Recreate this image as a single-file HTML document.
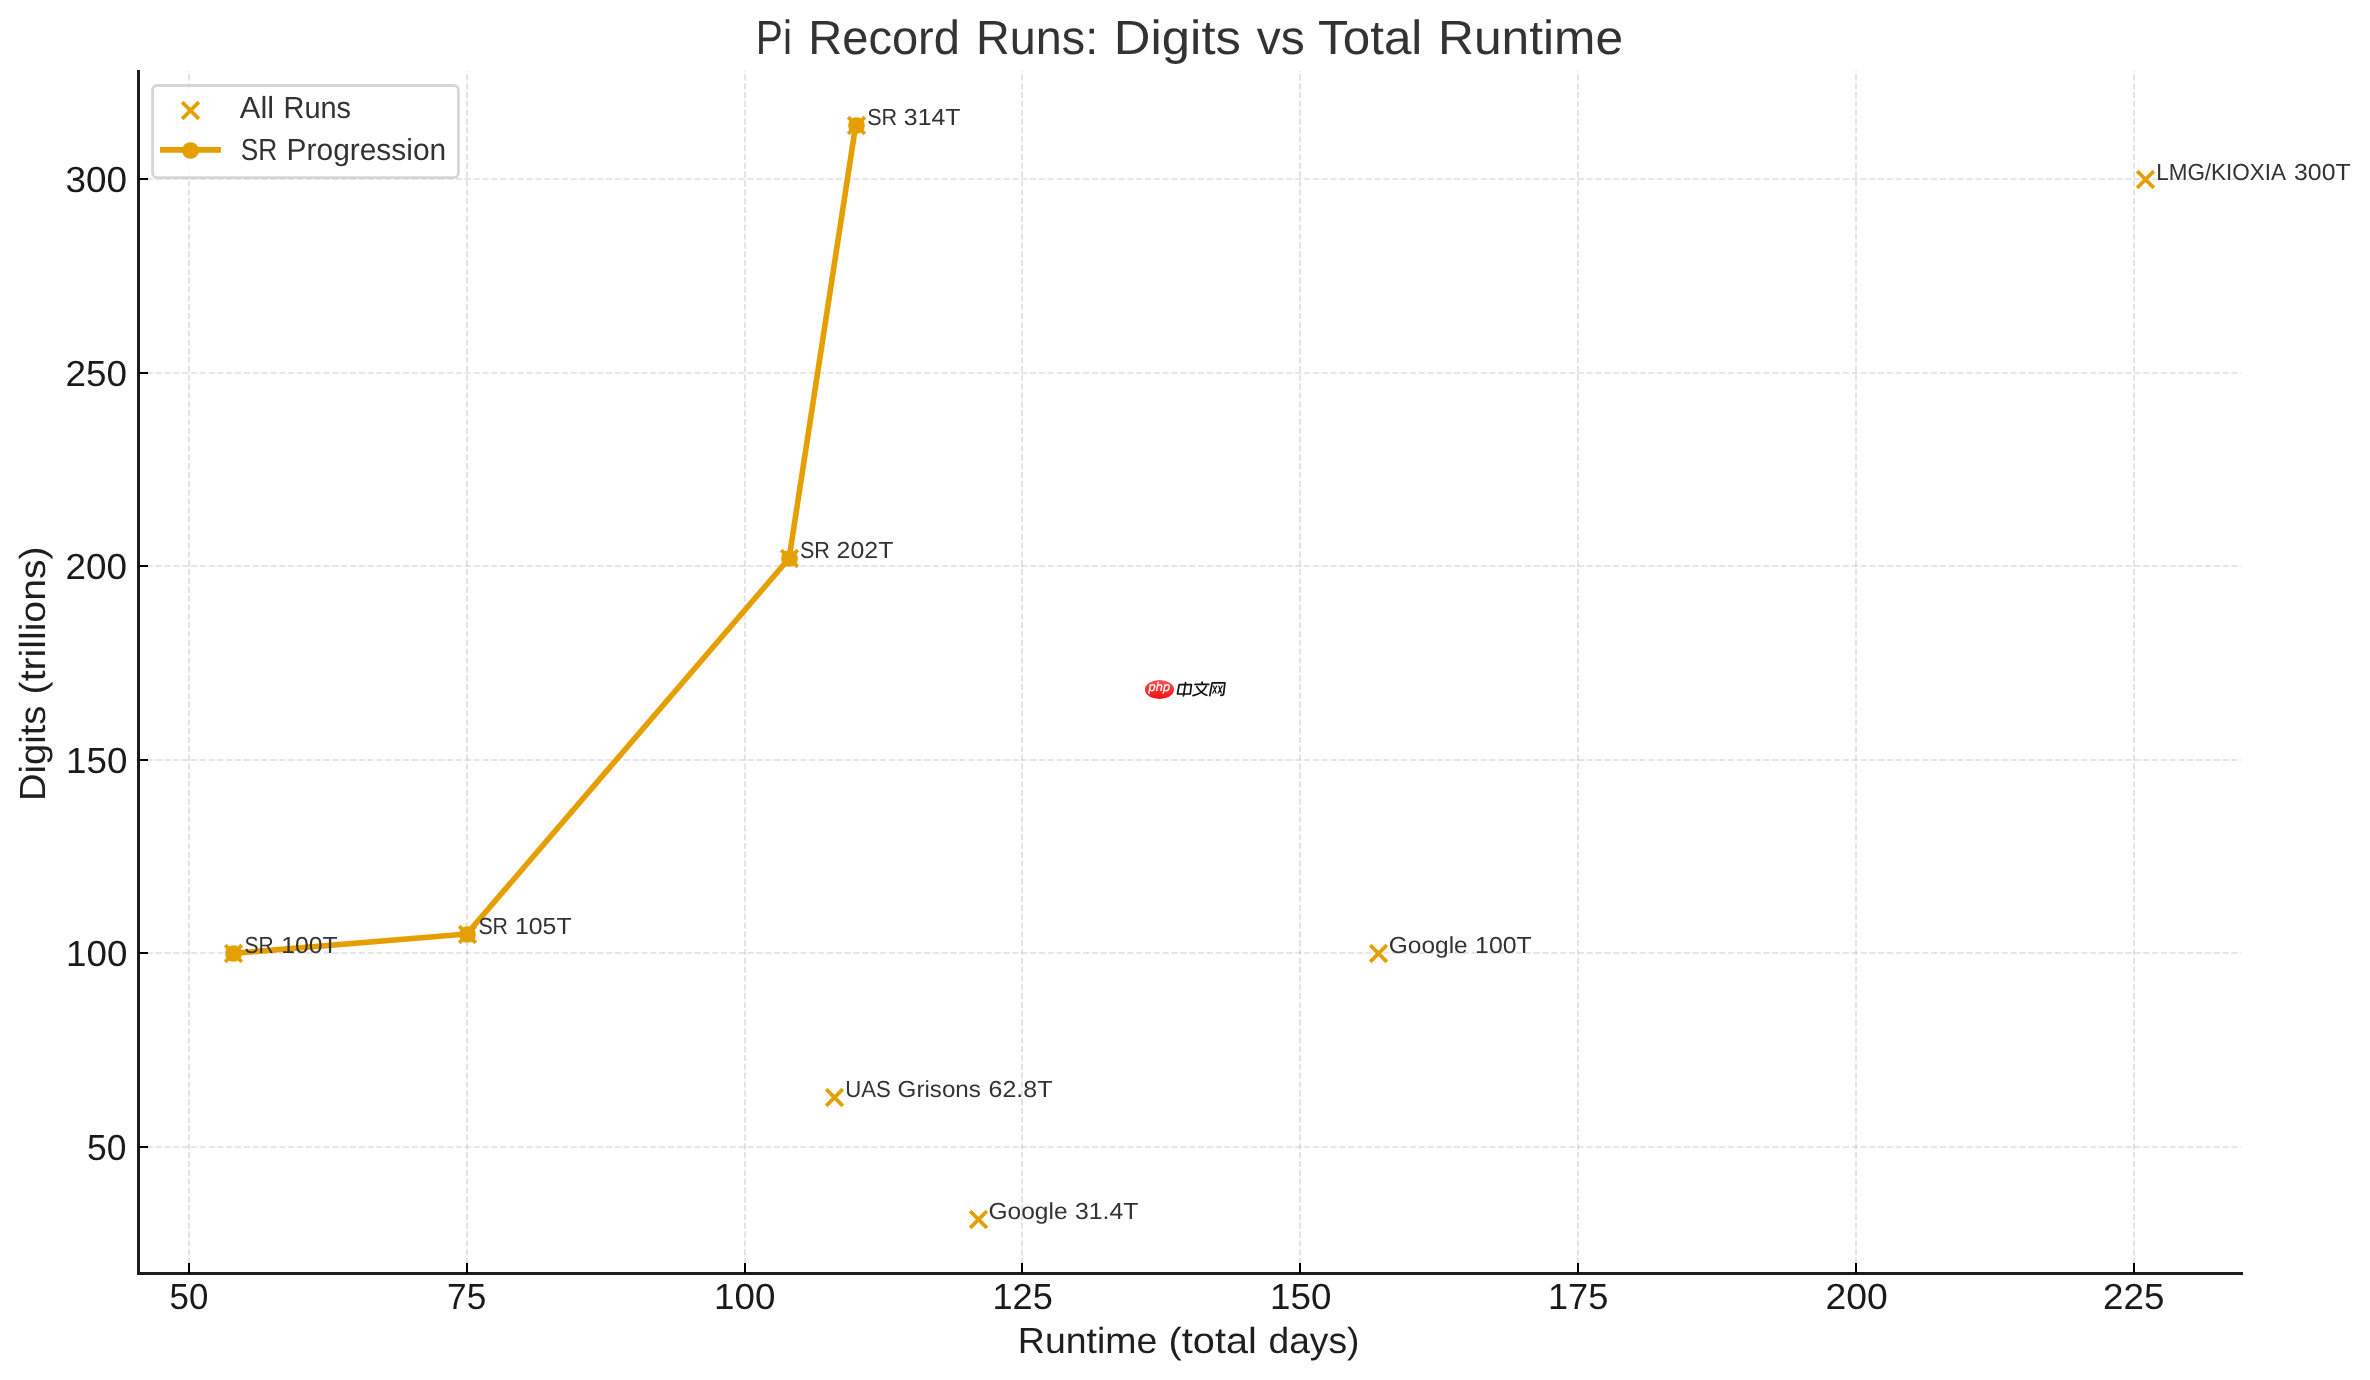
<!DOCTYPE html>
<html lang="en"><head><meta charset="utf-8"><title>Pi Record Runs: Digits vs Total Runtime</title>
<style>html,body{margin:0;padding:0;background:#fff}body{width:2370px;height:1380px;overflow:hidden}svg{display:block}text{font-family:"Liberation Sans",sans-serif;white-space:pre;text-rendering:geometricPrecision}</style></head><body>
<svg width="2370" height="1380" viewBox="0 0 2370 1380">
<rect width="2370" height="1380" fill="#ffffff"/>
<g id="scatter">
<path d="M225.17 945.17L241.83 961.83M225.17 961.83L241.83 945.17" stroke="#E69F00" stroke-width="3.7" fill="none"/>
<path d="M459.17 926.17L475.83 942.83M459.17 942.83L475.83 926.17" stroke="#E69F00" stroke-width="3.7" fill="none"/>
<path d="M781.17 550.17L797.83 566.83M781.17 566.83L797.83 550.17" stroke="#E69F00" stroke-width="3.7" fill="none"/>
<path d="M848.17 117.17L864.83 133.83M848.17 133.83L864.83 117.17" stroke="#E69F00" stroke-width="3.7" fill="none"/>
<path d="M2137.17 171.17L2153.83 187.83M2137.17 187.83L2153.83 171.17" stroke="#E69F00" stroke-width="3.7" fill="none"/>
<path d="M1370.17 945.17L1386.83 961.83M1370.17 961.83L1386.83 945.17" stroke="#E69F00" stroke-width="3.7" fill="none"/>
<path d="M826.17 1089.17L842.83 1105.83M826.17 1105.83L842.83 1089.17" stroke="#E69F00" stroke-width="3.7" fill="none"/>
<path d="M970.17 1211.17L986.83 1227.83M970.17 1227.83L986.83 1211.17" stroke="#E69F00" stroke-width="3.7" fill="none"/>
</g>
<g id="grid" stroke="#b0b0b0" stroke-opacity="0.42" stroke-width="1.67" stroke-dasharray="6.1667 2.6667" fill="none">
<path d="M189 1273.05V70.9"/>
<path d="M467 1273.05V70.9"/>
<path d="M745 1273.05V70.9"/>
<path d="M1022 1273.05V70.9"/>
<path d="M1300 1273.05V70.9"/>
<path d="M1578 1273.05V70.9"/>
<path d="M1856 1273.05V70.9"/>
<path d="M2134 1273.05V70.9"/>
<path d="M137.9 179H2241.1"/>
<path d="M137.9 373H2241.1"/>
<path d="M137.9 566H2241.1"/>
<path d="M137.9 760H2241.1"/>
<path d="M137.9 953H2241.1"/>
<path d="M137.9 1147H2241.1"/>
</g>
<polyline points="233.36,953.4 466.76,934.0 789.07,558.5 855.76,124.8" fill="none" stroke="#E69F00" stroke-width="5.6" stroke-linejoin="round" stroke-linecap="square"/>
<circle cx="233.5" cy="953.5" r="8.35" fill="#E69F00"/>
<circle cx="467.5" cy="934.5" r="8.35" fill="#E69F00"/>
<circle cx="789.5" cy="558.5" r="8.35" fill="#E69F00"/>
<circle cx="856.5" cy="125.5" r="8.35" fill="#E69F00"/>
<path d="M138.5 70V1275" stroke="#1c1c1c" stroke-width="3" fill="none"/>
<path d="M137 1273.5H2243" stroke="#1c1c1c" stroke-width="3" fill="none"/>
<g stroke="#000" stroke-width="2" fill="none">
<path d="M189 1273V1263"/>
<path d="M467 1273V1263"/>
<path d="M745 1273V1263"/>
<path d="M1022 1273V1263"/>
<path d="M1300 1273V1263"/>
<path d="M1578 1273V1263"/>
<path d="M1856 1273V1263"/>
<path d="M2134 1273V1263"/>
<path d="M139 179H148"/>
<path d="M139 373H148"/>
<path d="M139 566H148"/>
<path d="M139 760H148"/>
<path d="M139 953H148"/>
<path d="M139 1147H148"/>
</g>
<rect x="152.6" y="85.5" width="305.8" height="92.1" rx="4.4" ry="4.4" fill="#fff" fill-opacity="0.8" stroke="#cccccc" stroke-opacity="0.8" stroke-width="2.78"/>
<path d="M182.17 102.17L198.83 118.83M182.17 118.83L198.83 102.17" stroke="#E69F00" stroke-width="3.7" fill="none"/>
<path d="M160 149.9H220.9" stroke="#E69F00" stroke-width="5.6" fill="none"/>
<circle cx="190.5" cy="150.5" r="8.35" fill="#E69F00"/>
<g id="labels" opacity="0.999">
<text y="54.00" font-size="47.95" fill="#333333"><tspan x="755.75" textLength="36.19" lengthAdjust="spacingAndGlyphs">Pi</tspan> <tspan x="808.25" textLength="151.73" lengthAdjust="spacingAndGlyphs">Record</tspan> <tspan x="976.12" textLength="122.11" lengthAdjust="spacingAndGlyphs">Runs:</tspan> <tspan x="1113.88" textLength="127.05" lengthAdjust="spacingAndGlyphs">Digits</tspan> <tspan x="1256.75" textLength="48.07" lengthAdjust="spacingAndGlyphs">vs</tspan> <tspan x="1318.00" textLength="104.32" lengthAdjust="spacingAndGlyphs">Total</tspan> <tspan x="1438.00" textLength="185.14" lengthAdjust="spacingAndGlyphs">Runtime</tspan></text>
<text y="1353.00" font-size="36.30" fill="#1f1f1f"><tspan x="1017.88" textLength="139.56" lengthAdjust="spacingAndGlyphs">Runtime</tspan> <tspan x="1168.62" textLength="88.19" lengthAdjust="spacingAndGlyphs">(total</tspan> <tspan x="1268.50" textLength="90.91" lengthAdjust="spacingAndGlyphs">days)</tspan></text>
<text transform="translate(45.00 801.00) rotate(-90)" y="0" font-size="36.30" fill="#1f1f1f"><tspan x="-0.12" textLength="95.45" lengthAdjust="spacingAndGlyphs">Digits</tspan> <tspan x="106.62" textLength="147.91" lengthAdjust="spacingAndGlyphs">(trillions)</tspan></text>
<text y="1309.00" font-size="36.30" fill="#1a1a1a"><tspan x="169.62" textLength="38.77" lengthAdjust="spacingAndGlyphs">50</tspan></text>
<text y="1309.00" font-size="36.30" fill="#1a1a1a"><tspan x="447.12" textLength="39.20" lengthAdjust="spacingAndGlyphs">75</tspan></text>
<text y="1309.00" font-size="36.30" fill="#1a1a1a"><tspan x="714.12" textLength="61.26" lengthAdjust="spacingAndGlyphs">100</tspan></text>
<text y="1309.00" font-size="36.30" fill="#1a1a1a"><tspan x="992.38" textLength="60.40" lengthAdjust="spacingAndGlyphs">125</tspan></text>
<text y="1309.00" font-size="36.30" fill="#1a1a1a"><tspan x="1270.12" textLength="61.26" lengthAdjust="spacingAndGlyphs">150</tspan></text>
<text y="1309.00" font-size="36.30" fill="#1a1a1a"><tspan x="1547.97" textLength="60.40" lengthAdjust="spacingAndGlyphs">175</tspan></text>
<text y="1309.00" font-size="36.30" fill="#1a1a1a"><tspan x="1825.42" textLength="62.25" lengthAdjust="spacingAndGlyphs">200</tspan></text>
<text y="1309.00" font-size="36.30" fill="#1a1a1a"><tspan x="2103.05" textLength="61.40" lengthAdjust="spacingAndGlyphs">225</tspan></text>
<text y="1160.00" font-size="36.30" fill="#1a1a1a"><tspan x="87.12" textLength="39.37" lengthAdjust="spacingAndGlyphs">50</tspan></text>
<text y="966.00" font-size="36.30" fill="#1a1a1a"><tspan x="66.12" textLength="61.26" lengthAdjust="spacingAndGlyphs">100</tspan></text>
<text y="773.00" font-size="36.30" fill="#1a1a1a"><tspan x="66.12" textLength="61.26" lengthAdjust="spacingAndGlyphs">150</tspan></text>
<text y="579.00" font-size="36.30" fill="#1a1a1a"><tspan x="65.53" textLength="61.45" lengthAdjust="spacingAndGlyphs">200</tspan></text>
<text y="386.00" font-size="36.30" fill="#1a1a1a"><tspan x="65.53" textLength="61.45" lengthAdjust="spacingAndGlyphs">250</tspan></text>
<text y="192.00" font-size="36.30" fill="#1a1a1a"><tspan x="65.50" textLength="61.48" lengthAdjust="spacingAndGlyphs">300</tspan></text>
<text y="953.00" font-size="23.25" fill="#333"><tspan x="244.40" textLength="29.26" lengthAdjust="spacingAndGlyphs">SR</tspan> <tspan x="281.15" textLength="56.42" lengthAdjust="spacingAndGlyphs">100T</tspan></text>
<text y="934.00" font-size="23.25" fill="#333"><tspan x="478.42" textLength="29.62" lengthAdjust="spacingAndGlyphs">SR</tspan> <tspan x="515.00" textLength="56.56" lengthAdjust="spacingAndGlyphs">105T</tspan></text>
<text y="558.00" font-size="23.25" fill="#333"><tspan x="800.00" textLength="29.92" lengthAdjust="spacingAndGlyphs">SR</tspan> <tspan x="836.62" textLength="56.80" lengthAdjust="spacingAndGlyphs">202T</tspan></text>
<text y="125.00" font-size="23.25" fill="#333"><tspan x="867.22" textLength="30.01" lengthAdjust="spacingAndGlyphs">SR</tspan> <tspan x="903.85" textLength="56.69" lengthAdjust="spacingAndGlyphs">314T</tspan></text>
<text y="180.00" font-size="23.25" fill="#333"><tspan x="2156.15" textLength="128.73" lengthAdjust="spacingAndGlyphs">LMG/KIOXIA</tspan> <tspan x="2294.02" textLength="56.63" lengthAdjust="spacingAndGlyphs">300T</tspan></text>
<text y="953.00" font-size="23.25" fill="#333"><tspan x="1388.75" textLength="78.94" lengthAdjust="spacingAndGlyphs">Google</tspan> <tspan x="1475.10" textLength="56.62" lengthAdjust="spacingAndGlyphs">100T</tspan></text>
<text y="1097.00" font-size="23.25" fill="#333"><tspan x="845.15" textLength="45.52" lengthAdjust="spacingAndGlyphs">UAS</tspan> <tspan x="897.62" textLength="83.27" lengthAdjust="spacingAndGlyphs">Grisons</tspan> <tspan x="988.62" textLength="63.79" lengthAdjust="spacingAndGlyphs">62.8T</tspan></text>
<text y="1219.00" font-size="23.25" fill="#333"><tspan x="988.45" textLength="79.10" lengthAdjust="spacingAndGlyphs">Google</tspan> <tspan x="1075.03" textLength="63.46" lengthAdjust="spacingAndGlyphs">31.4T</tspan></text>
<text y="118.00" font-size="30.50" fill="#333"><tspan x="239.88" textLength="34.19" lengthAdjust="spacingAndGlyphs">All</tspan> <tspan x="283.50" textLength="67.53" lengthAdjust="spacingAndGlyphs">Runs</tspan></text>
<text y="160.00" font-size="30.50" fill="#333"><tspan x="240.75" textLength="36.51" lengthAdjust="spacingAndGlyphs">SR</tspan> <tspan x="286.62" textLength="159.53" lengthAdjust="spacingAndGlyphs">Progression</tspan></text>
</g>
<g id="watermark"><title>php 中文网</title>
<defs><linearGradient id="rg" x1="0" y1="0" x2="0" y2="1"><stop offset="0" stop-color="#ff5252"/><stop offset="1" stop-color="#ee1111"/></linearGradient></defs>
<ellipse cx="1159.5" cy="689.5" rx="14.5" ry="9.6" fill="url(#rg)"/>
<text x="1148.6" y="691.3" font-size="12.5" font-style="italic" textLength="21.5" lengthAdjust="spacingAndGlyphs" fill="#fff" stroke="#fff" stroke-width="0.2" opacity="0.999">php</text>
<g fill="none" stroke="#111" stroke-width="1.7" stroke-linecap="round" stroke-linejoin="round">
<path d="M1179.2 684.6H1191.4L1190.2 694H1177.5Z"/><path d="M1185.6 682.7L1183.5 695.8"/>
<path d="M1202.1 682.2V684"/><path d="M1195 684.4H1208.8"/><path d="M1196.8 686.6Q1200.5 693 1206.8 695.3"/><path d="M1206.2 686Q1203 693.5 1193 695.6"/>
<path d="M1209.8 695.6L1212.2 682.8H1224.9L1223.6 694Q1223.3 695.4 1220.8 695.3"/>
<path d="M1213.5 686L1216 693M1216.8 686L1212.6 693.2M1218.8 686L1221.3 693M1222.2 686L1218 693.2" stroke-width="1.2"/>
</g></g>

</svg></body></html>
